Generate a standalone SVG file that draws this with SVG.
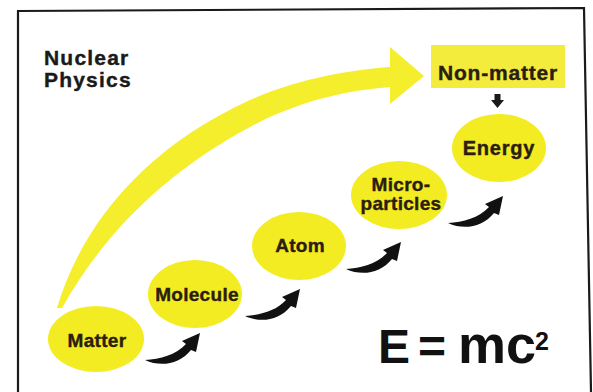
<svg xmlns="http://www.w3.org/2000/svg" width="593" height="392" viewBox="0 0 593 392">
<style>
.node{fill:#f4ec22}
.lbl{font-family:"Liberation Sans",Arial,sans-serif;font-weight:bold;font-size:19px;fill:#2b1d10;stroke:#2b1d10;stroke-width:0.4;text-anchor:middle;letter-spacing:0.3px}
.title{font-family:"Liberation Sans",Arial,sans-serif;font-weight:bold;font-size:21px;fill:#1a1a1a;stroke:#1a1a1a;stroke-width:0.4;letter-spacing:1.2px}
.hook{fill:#111}
</style>
<defs>
<path id="hook" d="M0,0 C15,7 34,5 46,-10 L51,-8 L55,-27 L37,-19 L41,-16 C31,-5 15,-1 0,0 Z"/>
</defs>
<rect x="0" y="0" width="593" height="392" fill="#fff"/>
<polyline points="18,392 18,11 584,8 591,392" fill="none" stroke="#1a1a1a" stroke-width="2.2"/>
<g id="title"><text class="title" x="44" y="65">Nuclear</text><text class="title" x="44" y="87">Physics</text></g>
<g id="connectors">
<path d="M57,308 C80,230 140,150 250,100 C300,78 350,70 390,67 L390,47 L424,76 L390,104 L390,87 C350,90 300,100 250,127 C160,175 100,240 62,308 Z" fill="#f4ee2c"/>
<use href="#hook" class="hook" transform="translate(145,360)"/>
<use href="#hook" class="hook" transform="translate(245,316)"/>
<use href="#hook" class="hook" transform="translate(346,269)"/>
<use href="#hook" class="hook" transform="translate(448,223)"/>
<path d="M494.5,94 L500.5,94 L500.5,100 L504,100 L497.5,108 L491,100 L494.5,100 Z" fill="#1a1a1a"/>
</g>
<g id="matter"><ellipse class="node" cx="96" cy="339" rx="48" ry="33"/><text class="lbl" x="97" y="347">Matter</text></g>
<g id="molecule"><ellipse class="node" cx="195" cy="294" rx="47" ry="34"/><text class="lbl" x="197" y="301">Molecule</text></g>
<g id="atom"><ellipse class="node" cx="299" cy="246" rx="47" ry="34"/><text class="lbl" x="300" y="252">Atom</text></g>
<g id="microparticles"><ellipse class="node" cx="399" cy="195" rx="48" ry="34"/><text class="lbl" x="401" y="191">Micro-</text><text class="lbl" x="401" y="210">particles</text></g>
<g id="energy"><ellipse class="node" cx="499" cy="148" rx="47" ry="34"/><text class="lbl" x="499" y="155" style="font-size:20px;letter-spacing:0.8px">Energy</text></g>
<g id="nonmatter"><rect x="431" y="45" width="134" height="43" fill="#f3ec3c"/><text class="lbl" x="498" y="80" style="font-size:21px;letter-spacing:0.8px">Non-matter</text></g>
<g id="formula"><text font-family="'Liberation Sans',Arial,sans-serif" font-weight="bold" fill="#111"><tspan x="378" y="363" font-size="48">E</tspan><tspan x="418" y="363" font-size="48">=</tspan><tspan x="458" y="363" font-size="54">mc</tspan><tspan x="535" y="350" font-size="25">2</tspan></text></g>
</svg>
